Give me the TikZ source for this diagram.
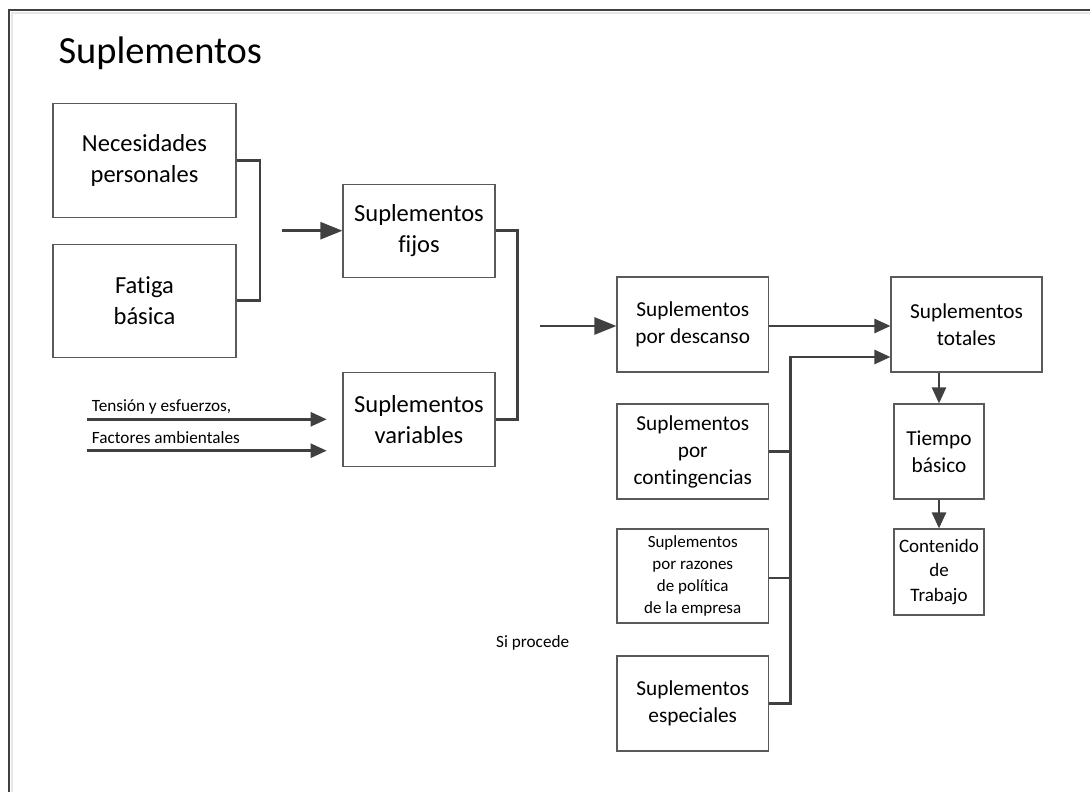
\documentclass[tikz,border=0pt]{standalone}
\usepackage{fontspec}
\setmainfont{Carlito}[Ligatures=NoCommon]
\usetikzlibrary{arrows.meta}
\definecolor{edge}{HTML}{404040}
\definecolor{rim}{HTML}{5A5A5A}
\definecolor{framelite}{HTML}{E6E6E6}
\begin{document}
\begin{tikzpicture}[x=1pt,y=-1pt,
  box/.style={draw=rim, line width=1.1pt, inner sep=0pt, align=center, text=black},
  big/.style={font=\fontsize{24.5}{31}\selectfont},
  mid/.style={font=\fontsize{21.3}{27}\selectfont},
  wire/.style={draw=edge, line width=2.5pt},
  arr/.style={wire, -{Triangle[length=22pt,width=17pt]}},
  arrs/.style={wire, -{Triangle[length=16pt,width=14pt]}},
  lbl/.style={font=\fontsize{17.2}{20}\selectfont, inner sep=0pt, anchor=base west}
]
\useasboundingbox (0,0) rectangle (1090,792);

% page frame
\draw[draw=framelite, line width=2pt] (11.7,792) -- (11.7,13.3) -- (1090,13.3);
\draw[draw=edge, line width=2pt] (8.7,792) -- (8.7,10.3) -- (1090,10.3);

% title
\node[anchor=base west, inner sep=0pt, font=\fontsize{38.4}{46}\selectfont] (title) at (58.4,63.3) {Suplementos};

% left column
\node[box, big, minimum width=183pt, minimum height=114pt] (nec) at (144.5,160.3) {Necesidades\\personales};
\node[box, big, minimum width=183pt, minimum height=113pt] (fat) at (144.5,300.7) {Fatiga\\básica};

% middle column
\node[box, big, minimum width=152pt, minimum height=93pt] (fijos) at (419,230.7) {Suplementos\\fijos};
\node[box, big, minimum width=152pt, minimum height=94pt] (var) at (419,419.5) {Suplementos\\variables};

% allowance types
\node[box, mid, minimum width=151.5pt, minimum height=95pt] (desc) at (692.75,324.5) {Suplementos\\por descanso};
\node[box, mid, minimum width=151.5pt, minimum height=95pt] (cont) at (692.75,451.5) {Suplementos\\por\\contingencias};
\node[box, minimum width=151.5pt, minimum height=94pt, font=\fontsize{17}{21.7}\selectfont] (raz) at (692.75,576) {Suplementos\\por razones\\de política\\de la empresa};
\node[box, mid, minimum width=151.5pt, minimum height=95pt] (esp) at (692.75,703.5) {Suplementos\\especiales};

% right column
\node[box, mid, minimum width=151pt, minimum height=95pt] (tot) at (966.5,324.5) {Suplementos\\totales};
\node[box, mid, minimum width=90pt, minimum height=95pt] (tie) at (939,451.5) {Tiempo\\básico};
\node[box, minimum width=90pt, minimum height=86pt, font=\fontsize{19}{24.5}\selectfont] (con) at (939,572) {Contenido\\de\\Trabajo};

% free labels
\node[lbl] (lten) at (91.7,411.7) {Tensión y esfuerzos,};
\node[lbl] (lfac) at (91.7,443.3) {Factores ambientales};
\node[lbl] (lsi) at (496,647) {Si procede};

% connector end points
\coordinate (jl) at (260,160.7);
\coordinate (fin) at (281.7,230.7);
\coordinate (jm) at (517.3,230.7);
\coordinate (din) at (540,326);
\coordinate (bus) at (790.7,357);
\coordinate (t1) at (87.3,419.3);
\coordinate (t1e) at (326.7,419.3);
\coordinate (t2) at (87.3,450.7);
\coordinate (t2e) at (326.7,450.7);

% connectors
\draw[wire] (nec.east |- jl) -- (jl) |- (fat.east);
\draw[arr] (fin) -- (fijos.west);
\draw[wire] (fijos.east) -- (jm) |- (var.east);
\draw[arrs] (t1) -- (t1e);
\draw[arrs] (t2) -- (t2e);
\draw[arr] (din) -- (din -| desc.west);
\draw[arrs] (desc.east |- din) -- (din -| tot.west);
\draw[arrs] (esp.east) -| (bus) -- (bus -| tot.west);
\draw[wire] (cont.east) -- (cont.east -| bus);
\draw[wire] (raz.east |- 0,578) -- (bus |- 0,578);
\draw[arrs] (tie.north |- tot.south) -- (tie.north);
\draw[arrs] (tie.south) -- (con.north);
\end{tikzpicture}
\end{document}
